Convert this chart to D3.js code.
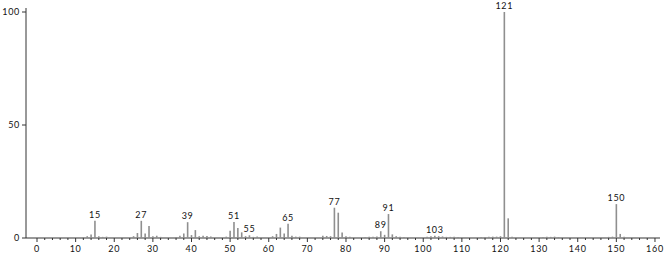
<!DOCTYPE html>
<html>
<head>
<meta charset="utf-8">
<script src="https://cdn.jsdelivr.net/npm/d3@7"></script>
<style>
  html, body { margin: 0; padding: 0; background: #fff; }
  svg { display: block; }
  text { font-family: "Lato", "DejaVu Sans", sans-serif; letter-spacing: 0.7px; }
</style>
</head>
<body>
<svg id="chart" width="666" height="254"></svg>
<script>
// m/z values and relative intensities (%)
const mzValues = [12, 13, 14, 15, 16, 17, 18,
    25, 26, 27, 28, 29, 30, 31, 32,
    36, 37, 38, 39, 40, 41, 42, 43, 44, 45,
    49, 50, 51, 52, 53, 54, 55, 56, 57,
    61, 62, 63, 64, 65, 66, 67, 68,
    74, 75, 76, 77, 78, 79, 80, 81,
    85, 86, 87, 88, 89, 90, 91, 92, 93, 94, 95,
    101, 102, 103, 104, 105, 106, 107, 108, 109,
    115, 116, 117, 118, 119, 120, 121, 122, 123,
    131, 132, 133, 134, 135, 148, 149, 150, 151, 152];
const intensities = [0.4, 0.8, 1.5, 7.6, 0.8, 0.5, 0.6,
    0.8, 2.2, 7.6, 2.0, 5.3, 0.8, 1.0, 0.5,
    0.4, 1.0, 2.0, 7.0, 1.3, 3.5, 0.8, 1.0, 0.9, 0.7,
    0.6, 3.2, 7.1, 4.4, 2.5, 0.8, 1.2, 0.5, 0.7,
    0.8, 1.8, 4.6, 2.0, 6.3, 1.0, 0.6, 0.6,
    1.0, 0.9, 0.8, 13.4, 11.2, 2.4, 0.8, 0.5,
    0.4, 0.5, 0.6, 0.7, 3.0, 1.4, 10.6, 1.6, 0.8, 0.6, 0.4,
    0.5, 0.8, 1.0, 0.8, 0.7, 0.5, 0.5, 0.6, 0.4,
    0.4, 0.4, 0.5, 0.6, 0.6, 0.8, 100, 8.7, 0.6,
    0.4, 0.5, 0.5, 0.6, 0.4, 0.5, 0.6, 15.0, 1.8, 0.5];
const labelledPeaks = [15, 27, 39, 51, 55, 65, 77, 89, 91, 103, 121, 150];
const xTickLabels = [0, 10, 20, 30, 40, 50, 60, 70, 80, 90, 100, 110, 120, 130, 140, 150, 160];
const yTickLabels = [0, 50, 100];

const peaks = mzValues.map((mz, i) => ({ mz: mz, value: intensities[i] }));

const svg = d3.select("#chart");

const x = d3.scaleLinear().domain([-2.85, 161.3]).range([26, 660]);
const y = d3.scaleLinear().domain([0, 100]).range([238, 12]);

// x axis
const xAxis = svg.append("g").attr("transform", `translate(0,${y(0)})`);
xAxis.append("line")
    .attr("x1", x.range()[0]).attr("x2", x.range()[1])
    .attr("stroke", "#333").attr("stroke-width", 1);
xAxis.selectAll("line.minor")
    .data(d3.range(2, 161, 2).filter(d => d % 10 !== 0))
    .join("line")
    .attr("class", "minor")
    .attr("x1", d => x(d)).attr("x2", d => x(d))
    .attr("y1", 0).attr("y2", 2)
    .attr("stroke", "#333");
xAxis.selectAll("line.major")
    .data(xTickLabels)
    .join("line")
    .attr("class", "major")
    .attr("x1", d => x(d)).attr("x2", d => x(d))
    .attr("y1", 0).attr("y2", 4)
    .attr("stroke", "#333");
xAxis.selectAll("text")
    .data(xTickLabels)
    .join("text")
    .attr("x", d => x(d))
    .attr("y", 14)
    .attr("text-anchor", "middle")
    .attr("font-size", 9)
    .attr("fill", "#111")
    .text(d => d);

// y axis
const yAxis = svg.append("g").attr("transform", `translate(${x.range()[0]},0)`);
yAxis.append("line")
    .attr("y1", y(0)).attr("y2", 8)
    .attr("stroke", "#333").attr("stroke-width", 1);
yAxis.selectAll("line.major")
    .data(yTickLabels)
    .join("line")
    .attr("class", "major")
    .attr("y1", d => y(d)).attr("y2", d => y(d))
    .attr("x1", -4).attr("x2", 0)
    .attr("stroke", "#333");
yAxis.selectAll("line.minor")
    .data([25, 75])
    .join("line")
    .attr("class", "minor")
    .attr("y1", d => y(d)).attr("y2", d => y(d))
    .attr("x1", -1).attr("x2", 0)
    .attr("stroke", "#999");
yAxis.selectAll("text")
    .data(yTickLabels)
    .join("text")
    .attr("x", -6)
    .attr("y", d => y(d))
    .attr("dy", "0.35em")
    .attr("text-anchor", "end")
    .attr("font-size", 9)
    .attr("fill", "#111")
    .text(d => d);

// peaks
svg.append("g").selectAll("line")
    .data(peaks)
    .join("line")
    .attr("x1", d => x(d.mz)).attr("x2", d => x(d.mz))
    .attr("y1", y(0)).attr("y2", d => y(d.value))
    .attr("stroke", "#8f8f8f")
    .attr("stroke-width", 1.6);

// peak labels
svg.append("g").selectAll("text")
    .data(peaks.filter(d => labelledPeaks.includes(d.mz)))
    .join("text")
    .attr("x", d => x(d.mz))
    .attr("y", d => y(d.value) - 3)
    .attr("text-anchor", "middle")
    .attr("font-size", 9)
    .attr("fill", "#111")
    .text(d => d.mz);
</script>
</body>
</html>
